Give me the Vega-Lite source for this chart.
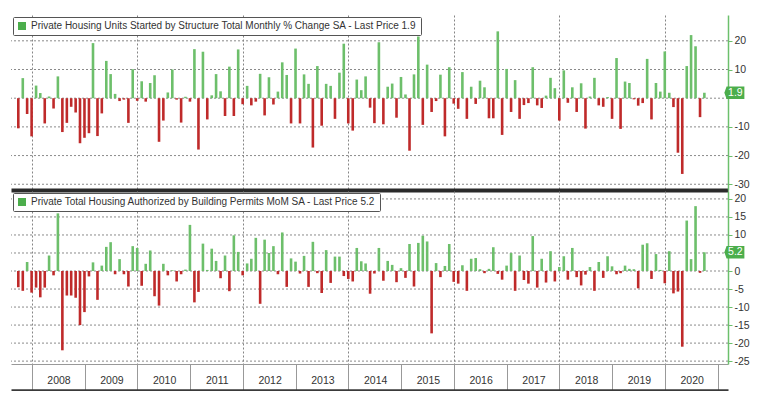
{
"$schema": "https://vega.github.io/schema/vega-lite/v6.json",
"background": "white",
"padding": {"left": 10, "top": 15, "right": 0, "bottom": 0},
"config": {
  "font": "Liberation Sans, Arial, sans-serif",
  "view": {"stroke": null},
  "axis": {"labelFont": "Liberation Sans, Arial, sans-serif", "labelFontSize": 10.5, "labelColor": "#333333", "labelOverlap": false},
  "axisX": {"gridColor": "#858585", "gridDash": [2, 2], "gridWidth": 1},
  "legend": {"labelFont": "Liberation Sans, Arial, sans-serif", "labelFontSize": 10, "labelColor": "#333333"},
  "rule": {"color": "#8a8a8a", "strokeDash": [2, 2], "strokeWidth": 1}
},
"datasets": {
"starts": [
{"d":"2007-09-30","v":-10.5},{"d":"2007-10-31","v":7},{"d":"2007-11-30","v":-5.5},{"d":"2007-12-31","v":-13.3},
{"d":"2008-01-31","v":4.4},{"d":"2008-02-29","v":1.8},{"d":"2008-03-31","v":-8.8},{"d":"2008-04-30","v":0.6},{"d":"2008-05-31","v":-3.6},{"d":"2008-06-30","v":7.6},{"d":"2008-07-31","v":-11.8},{"d":"2008-08-31","v":-8.6},{"d":"2008-09-30","v":-3},{"d":"2008-10-31","v":-5},{"d":"2008-11-30","v":-15.7},{"d":"2008-12-31","v":-13.8},
{"d":"2009-01-31","v":-12.2},{"d":"2009-02-28","v":19.2},{"d":"2009-03-31","v":-13.2},{"d":"2009-04-30","v":-5.3},{"d":"2009-05-31","v":13},{"d":"2009-06-30","v":8.4},{"d":"2009-07-31","v":1.5},{"d":"2009-08-31","v":-1},{"d":"2009-09-30","v":-0.5},{"d":"2009-10-31","v":-8.6},{"d":"2009-11-30","v":10.1},{"d":"2009-12-31","v":-0.9},
{"d":"2010-01-31","v":5.9},{"d":"2010-02-28","v":-1.2},{"d":"2010-03-31","v":5.3},{"d":"2010-04-30","v":8},{"d":"2010-05-31","v":-15.2},{"d":"2010-06-30","v":-7.8},{"d":"2010-07-31","v":2},{"d":"2010-08-31","v":10},{"d":"2010-09-30","v":-0.5},{"d":"2010-10-31","v":-8.5},{"d":"2010-11-30","v":0.5},{"d":"2010-12-31","v":-1.2},
{"d":"2011-01-31","v":17.1},{"d":"2011-02-28","v":-17.9},{"d":"2011-03-31","v":16.2},{"d":"2011-04-30","v":-7.4},{"d":"2011-05-31","v":1},{"d":"2011-06-30","v":8.4},{"d":"2011-07-31","v":2.4},{"d":"2011-08-31","v":-6.2},{"d":"2011-09-30","v":11},{"d":"2011-10-31","v":-6.2},{"d":"2011-11-30","v":17},{"d":"2011-12-31","v":-2.1},
{"d":"2012-01-31","v":4.3},{"d":"2012-02-29","v":-2.5},{"d":"2012-03-31","v":-1.2},{"d":"2012-04-30","v":8.5},{"d":"2012-05-31","v":-6},{"d":"2012-06-30","v":7.3},{"d":"2012-07-31","v":-2.2},{"d":"2012-08-31","v":2.3},{"d":"2012-09-30","v":12.5},{"d":"2012-10-31","v":8.1},{"d":"2012-11-30","v":-8.8},{"d":"2012-12-31","v":17.3},
{"d":"2013-01-31","v":-8.8},{"d":"2013-02-28","v":8.3},{"d":"2013-03-31","v":5},{"d":"2013-04-30","v":-17.2},{"d":"2013-05-31","v":11.2},{"d":"2013-06-30","v":-9.6},{"d":"2013-07-31","v":5},{"d":"2013-08-31","v":4.3},{"d":"2013-09-30","v":-7.2},{"d":"2013-10-31","v":8.9},{"d":"2013-11-30","v":19},{"d":"2013-12-31","v":-8.8},
{"d":"2014-01-31","v":-11.3},{"d":"2014-02-28","v":6.5},{"d":"2014-03-31","v":2.8},{"d":"2014-04-30","v":7.6},{"d":"2014-05-31","v":-3.3},{"d":"2014-06-30","v":-8.7},{"d":"2014-07-31","v":19.5},{"d":"2014-08-31","v":-9.1},{"d":"2014-09-30","v":4},{"d":"2014-10-31","v":5.1},{"d":"2014-11-30","v":-6.8},{"d":"2014-12-31","v":7.4},
{"d":"2015-01-31","v":1.3},{"d":"2015-02-28","v":-18.3},{"d":"2015-03-31","v":8.3},{"d":"2015-04-30","v":21.5},{"d":"2015-05-31","v":-9.3},{"d":"2015-06-30","v":11.7},{"d":"2015-07-31","v":-4.8},{"d":"2015-08-31","v":-1},{"d":"2015-09-30","v":8.2},{"d":"2015-10-31","v":-13.3},{"d":"2015-11-30","v":10.8},{"d":"2015-12-31","v":-1.9},
{"d":"2016-01-31","v":-3.7},{"d":"2016-02-29","v":9.1},{"d":"2016-03-31","v":-7.2},{"d":"2016-04-30","v":4},{"d":"2016-05-31","v":-2},{"d":"2016-06-30","v":6.1},{"d":"2016-07-31","v":3.8},{"d":"2016-08-31","v":-7},{"d":"2016-09-30","v":-7},{"d":"2016-10-31","v":23.3},{"d":"2016-11-30","v":-12.8},{"d":"2016-12-31","v":10.2},
{"d":"2017-01-31","v":-4.8},{"d":"2017-02-28","v":6.3},{"d":"2017-03-31","v":-7.2},{"d":"2017-04-30","v":-2.4},{"d":"2017-05-31","v":-1.7},{"d":"2017-06-30","v":10.8},{"d":"2017-07-31","v":-2.5},{"d":"2017-08-31","v":-3.4},{"d":"2017-09-30","v":0.9},{"d":"2017-10-31","v":7.1},{"d":"2017-11-30","v":3.5},{"d":"2017-12-31","v":-7.8},
{"d":"2018-01-31","v":9.7},{"d":"2018-02-28","v":-1.6},{"d":"2018-03-31","v":3.8},{"d":"2018-04-30","v":-4.8},{"d":"2018-05-31","v":5.2},{"d":"2018-06-30","v":-10.6},{"d":"2018-07-31","v":0.6},{"d":"2018-08-31","v":7.1},{"d":"2018-09-30","v":-2.5},{"d":"2018-10-31","v":-3},{"d":"2018-11-30","v":0.4},{"d":"2018-12-31","v":-7.2},
{"d":"2019-01-31","v":14},{"d":"2019-02-28","v":-10.7},{"d":"2019-03-31","v":5.8},{"d":"2019-04-30","v":5.3},{"d":"2019-05-31","v":-0.4},{"d":"2019-06-30","v":-2.6},{"d":"2019-07-31","v":-1.7},{"d":"2019-08-31","v":13.7},{"d":"2019-09-30","v":-7.4},{"d":"2019-10-31","v":5.3},{"d":"2019-11-30","v":2.3},{"d":"2019-12-31","v":16.3},
{"d":"2020-01-31","v":1.9},{"d":"2020-02-29","v":-3.1},{"d":"2020-03-31","v":-19},{"d":"2020-04-30","v":-26.4},{"d":"2020-05-31","v":11.2},{"d":"2020-06-30","v":22},{"d":"2020-07-31","v":18.1},{"d":"2020-08-31","v":-6.6},{"d":"2020-09-30","v":1.9}
],
"permits": [
{"d":"2007-09-30","v":-4.5},{"d":"2007-10-31","v":-5.5},{"d":"2007-11-30","v":2.5},{"d":"2007-12-31","v":-6},
{"d":"2008-01-31","v":-4.6},{"d":"2008-02-29","v":-7.3},{"d":"2008-03-31","v":-4.6},{"d":"2008-04-30","v":4.3},{"d":"2008-05-31","v":-1.2},{"d":"2008-06-30","v":16},{"d":"2008-07-31","v":-22},{"d":"2008-08-31","v":-6.8},{"d":"2008-09-30","v":-6.8},{"d":"2008-10-31","v":-7.4},{"d":"2008-11-30","v":-15},{"d":"2008-12-31","v":-11.4},
{"d":"2009-01-31","v":-1.5},{"d":"2009-02-28","v":2.4},{"d":"2009-03-31","v":-8},{"d":"2009-04-30","v":1.5},{"d":"2009-05-31","v":6.7},{"d":"2009-06-30","v":8},{"d":"2009-07-31","v":-0.9},{"d":"2009-08-31","v":3.3},{"d":"2009-09-30","v":-0.9},{"d":"2009-10-31","v":-4.3},{"d":"2009-11-30","v":6.9},{"d":"2009-12-31","v":6.4},
{"d":"2010-01-31","v":-4.1},{"d":"2010-02-28","v":2},{"d":"2010-03-31","v":5.7},{"d":"2010-04-30","v":-7},{"d":"2010-05-31","v":-9.6},{"d":"2010-06-30","v":2},{"d":"2010-07-31","v":-1.2},{"d":"2010-08-31","v":0.2},{"d":"2010-09-30","v":-2.9},{"d":"2010-10-31","v":-0.9},{"d":"2010-11-30","v":0.4},{"d":"2010-12-31","v":12.8},
{"d":"2011-01-31","v":-8.7},{"d":"2011-02-28","v":-5.8},{"d":"2011-03-31","v":7.6},{"d":"2011-04-30","v":0.3},{"d":"2011-05-31","v":6.2},{"d":"2011-06-30","v":2.8},{"d":"2011-07-31","v":-2},{"d":"2011-08-31","v":4.3},{"d":"2011-09-30","v":-5.6},{"d":"2011-10-31","v":9.9},{"d":"2011-11-30","v":5.3},{"d":"2011-12-31","v":-1.2},
{"d":"2012-01-31","v":2.1},{"d":"2012-02-29","v":3.4},{"d":"2012-03-31","v":9.2},{"d":"2012-04-30","v":-9.1},{"d":"2012-05-31","v":8.7},{"d":"2012-06-30","v":5},{"d":"2012-07-31","v":6.9},{"d":"2012-08-31","v":-0.9},{"d":"2012-09-30","v":10.7},{"d":"2012-10-31","v":-4.4},{"d":"2012-11-30","v":3.5},{"d":"2012-12-31","v":2.6},
{"d":"2013-01-31","v":-0.7},{"d":"2013-02-28","v":4.2},{"d":"2013-03-31","v":-4.4},{"d":"2013-04-30","v":8.1},{"d":"2013-05-31","v":-0.6},{"d":"2013-06-30","v":-6.1},{"d":"2013-07-31","v":5.8},{"d":"2013-08-31","v":-3.3},{"d":"2013-09-30","v":4},{"d":"2013-10-31","v":4},{"d":"2013-11-30","v":-1.4},{"d":"2013-12-31","v":-2.2},
{"d":"2014-01-31","v":-2.9},{"d":"2014-02-28","v":6.4},{"d":"2014-03-31","v":2.7},{"d":"2014-04-30","v":2.1},{"d":"2014-05-31","v":-6.3},{"d":"2014-06-30","v":-0.7},{"d":"2014-07-31","v":6.4},{"d":"2014-08-31","v":-2.7},{"d":"2014-09-30","v":2.8},{"d":"2014-10-31","v":1.7},{"d":"2014-11-30","v":-3.1},{"d":"2014-12-31","v":0.8},
{"d":"2015-01-31","v":-1.9},{"d":"2015-02-28","v":7.5},{"d":"2015-03-31","v":-4.3},{"d":"2015-04-30","v":7.8},{"d":"2015-05-31","v":9.8},{"d":"2015-06-30","v":8.2},{"d":"2015-07-31","v":-17.3},{"d":"2015-08-31","v":2.2},{"d":"2015-09-30","v":-1.7},{"d":"2015-10-31","v":1.4},{"d":"2015-11-30","v":7.5},{"d":"2015-12-31","v":-3},
{"d":"2016-01-31","v":-3.5},{"d":"2016-02-29","v":1.6},{"d":"2016-03-31","v":-5.5},{"d":"2016-04-30","v":3.4},{"d":"2016-05-31","v":3.6},{"d":"2016-06-30","v":0.5},{"d":"2016-07-31","v":-0.6},{"d":"2016-08-31","v":0.6},{"d":"2016-09-30","v":6.6},{"d":"2016-10-31","v":-0.8},{"d":"2016-11-30","v":-2.4},{"d":"2016-12-31","v":1.5},
{"d":"2017-01-31","v":5},{"d":"2017-02-28","v":-5.5},{"d":"2017-03-31","v":4.3},{"d":"2017-04-30","v":-2.5},{"d":"2017-05-31","v":-3.5},{"d":"2017-06-30","v":9.7},{"d":"2017-07-31","v":-4.6},{"d":"2017-08-31","v":3.4},{"d":"2017-09-30","v":-3.2},{"d":"2017-10-31","v":5.5},{"d":"2017-11-30","v":-2.9},{"d":"2017-12-31","v":1.1},
{"d":"2018-01-31","v":4.1},{"d":"2018-02-28","v":-2.4},{"d":"2018-03-31","v":6.4},{"d":"2018-04-30","v":-1.7},{"d":"2018-05-31","v":-4},{"d":"2018-06-30","v":-1},{"d":"2018-07-31","v":1.1},{"d":"2018-08-31","v":-5.5},{"d":"2018-09-30","v":2.5},{"d":"2018-10-31","v":-1.9},{"d":"2018-11-30","v":4.1},{"d":"2018-12-31","v":1.3},
{"d":"2019-01-31","v":-0.9},{"d":"2019-02-28","v":-0.6},{"d":"2019-03-31","v":1.5},{"d":"2019-04-30","v":0.6},{"d":"2019-05-31","v":0.5},{"d":"2019-06-30","v":-4.8},{"d":"2019-07-31","v":7.3},{"d":"2019-08-31","v":7.7},{"d":"2019-09-30","v":-2.2},{"d":"2019-10-31","v":4.7},{"d":"2019-11-30","v":0.3},{"d":"2019-12-31","v":-3.4},
{"d":"2020-01-31","v":5.5},{"d":"2020-02-29","v":-6.2},{"d":"2020-03-31","v":-5.7},{"d":"2020-04-30","v":-21},{"d":"2020-05-31","v":14},{"d":"2020-06-30","v":3.3},{"d":"2020-07-31","v":18},{"d":"2020-08-31","v":-0.5},{"d":"2020-09-30","v":5.2}
]
},
"spacing": 1,
"resolve": {"scale": {"x": "independent", "y": "independent", "color": "independent"}, "legend": {"color": "independent"}},
"vconcat": [
{
  "width": 717, "height": 175,
  "data": {"name": "starts"},
  "resolve": {"axis": {"x": "independent", "y": "independent"}},
  "layer": [
    {"data": {"values": [{}]}, "mark": "rule", "encoding": {"y": {"datum": 20, "axis": null}}},
    {"data": {"values": [{}]}, "mark": "rule", "encoding": {"y": {"datum": 10, "axis": null}}},
    {"data": {"values": [{}]}, "mark": "rule", "encoding": {"y": {"datum": 0, "axis": null}}},
    {"data": {"values": [{}]}, "mark": "rule", "encoding": {"y": {"datum": -10, "axis": null}}},
    {"data": {"values": [{}]}, "mark": "rule", "encoding": {"y": {"datum": -20, "axis": null}}},
    {"data": {"values": [{}]}, "mark": "rule", "encoding": {"y": {"datum": -30, "axis": null}}},
    {
      "mark": {"type": "bar", "size": 2.6},
      "encoding": {
        "x": {"field": "d", "type": "temporal",
              "scale": {"type": "utc", "domain": [{"year": 2007, "month": 9, "date": 14, "utc": true}, {"year": 2021, "month": 2, "date": 6, "utc": true}]},
              "axis": {"orient": "bottom", "title": null, "domain": true, "domainColor": "#2b2b2b", "domainWidth": 4, "ticks": false, "labels": false, "grid": true, "tickCount": {"interval": "year", "step": 2}}},
        "y": {"field": "v", "type": "quantitative",
              "scale": {"domain": [-32, 29], "nice": false},
              "axis": {"orient": "right", "title": null, "values": [-30, -20, -10, 0, 10, 20], "labelExpr": "datum.value == 0 ? '' : '' + datum.value", "labelOverlap": false, "labelBound": false, "domainColor": "#6cc06c", "domainWidth": 1.5, "tickColor": "#6cc06c", "tickSize": 4, "labelPadding": 2, "grid": false}},
        "color": {"condition": {"test": "datum.v >= 0", "value": "#6dbf6b"}, "value": "#bf2a2a"}
      }
    },
    {
      "transform": [{"filter": "utcyear(datum.d) == 2020 && utcmonth(datum.d) == 8"}],
      "mark": {"type": "point", "shape": "M-1,0L-0.78,-0.62L1,-0.62L1,0.62L-0.78,0.62Z", "size": 400, "filled": true, "opacity": 1, "xOffset": 30},
      "encoding": {
        "x": {"field": "d", "type": "temporal", "axis": null},
        "y": {"field": "v", "type": "quantitative", "axis": null},
        "color": {"datum": "Private Housing Units Started by Structure Total Monthly % Change SA - Last Price 1.9", "type": "nominal",
                  "scale": {"range": ["#4cae4c"]},
                  "legend": {"title": null, "orient": "top-left", "offset": 2, "padding": 4, "strokeColor": "#555555", "fillColor": "white", "symbolType": "square", "symbolSize": 64, "symbolStrokeWidth": 0, "labelLimit": 700, "cornerRadius": 1}}
      }
    },
    {
      "transform": [{"filter": "utcyear(datum.d) == 2020 && utcmonth(datum.d) == 8"}],
      "mark": {"type": "text", "xOffset": 31, "color": "white", "fontSize": 10.5},
      "encoding": {
        "x": {"field": "d", "type": "temporal", "axis": null},
        "y": {"field": "v", "type": "quantitative", "axis": null},
        "text": {"field": "v", "type": "quantitative", "format": ".1f"}
      }
    }
  ]
},
{
  "width": 717, "height": 173,
  "data": {"name": "permits"},
  "resolve": {"axis": {"x": "independent", "y": "independent"}},
  "layer": [
    {"data": {"values": [{}]}, "mark": "rule", "encoding": {"y": {"datum": 20, "axis": null}}},
    {"data": {"values": [{}]}, "mark": "rule", "encoding": {"y": {"datum": 15, "axis": null}}},
    {"data": {"values": [{}]}, "mark": "rule", "encoding": {"y": {"datum": 10, "axis": null}}},
    {"data": {"values": [{}]}, "mark": "rule", "encoding": {"y": {"datum": 5, "axis": null}}},
    {"data": {"values": [{}]}, "mark": "rule", "encoding": {"y": {"datum": 0, "axis": null}}},
    {"data": {"values": [{}]}, "mark": "rule", "encoding": {"y": {"datum": -5, "axis": null}}},
    {"data": {"values": [{}]}, "mark": "rule", "encoding": {"y": {"datum": -10, "axis": null}}},
    {"data": {"values": [{}]}, "mark": "rule", "encoding": {"y": {"datum": -15, "axis": null}}},
    {"data": {"values": [{}]}, "mark": "rule", "encoding": {"y": {"datum": -20, "axis": null}}},
    {"data": {"values": [{}]}, "mark": "rule", "encoding": {"y": {"datum": -25, "axis": null}}},
    {
      "mark": {"type": "bar", "size": 2.6},
      "encoding": {
        "x": {"field": "d", "type": "temporal",
              "scale": {"type": "utc", "domain": [{"year": 2007, "month": 9, "date": 14, "utc": true}, {"year": 2021, "month": 2, "date": 6, "utc": true}]},
              "axis": {"orient": "bottom", "title": null, "domain": true, "domainColor": "#999999", "domainWidth": 1, "ticks": true, "tickSize": 26, "tickColor": "#999999", "grid": false, "tickCount": {"interval": "year", "step": 1}, "labelExpr": "utcyear(datum.value) > 2020 ? '' : utcFormat(datum.value, '%Y')", "labelAlign": "center", "labelOffset": 26.75, "labelPadding": -15, "labelFlush": false, "labelOverlap": false, "labelBound": false, "labelFontSize": 10.5}},
        "y": {"field": "v", "type": "quantitative",
              "scale": {"domain": [-25.8, 22.2], "nice": false},
              "axis": {"orient": "right", "title": null, "values": [-25, -20, -15, -10, -5, 0, 5, 10, 15, 20], "labelExpr": "datum.value == 5 ? '' : '' + datum.value", "labelOverlap": false, "labelBound": false, "domainColor": "#6cc06c", "domainWidth": 1.5, "tickColor": "#6cc06c", "tickSize": 4, "labelPadding": 2, "grid": false}},
        "color": {"condition": {"test": "datum.v >= 0", "value": "#6dbf6b"}, "value": "#bf2a2a"}
      }
    },
    {
      "transform": [{"filter": "utcyear(datum.d) == 2020 && utcmonth(datum.d) == 8"}],
      "mark": {"type": "point", "shape": "M-1,0L-0.78,-0.62L1,-0.62L1,0.62L-0.78,0.62Z", "size": 400, "filled": true, "opacity": 1, "xOffset": 30},
      "encoding": {
        "x": {"field": "d", "type": "temporal",
              "axis": {"orient": "bottom", "offset": 26, "title": null, "domain": true, "domainColor": "#3a3a3a", "domainWidth": 2.5, "ticks": false, "labels": false, "grid": true, "tickCount": {"interval": "year", "step": 2}}},
        "y": {"field": "v", "type": "quantitative", "axis": null},
        "color": {"datum": "Private Total Housing Authorized by Building Permits MoM SA - Last Price 5.2", "type": "nominal",
                  "scale": {"range": ["#4cae4c"]},
                  "legend": {"title": null, "orient": "top-left", "offset": 2, "padding": 4, "strokeColor": "#555555", "fillColor": "white", "symbolType": "square", "symbolSize": 64, "symbolStrokeWidth": 0, "labelLimit": 700, "cornerRadius": 1}}
      }
    },
    {
      "transform": [{"filter": "utcyear(datum.d) == 2020 && utcmonth(datum.d) == 8"}],
      "mark": {"type": "text", "xOffset": 31, "color": "white", "fontSize": 10.5},
      "encoding": {
        "x": {"field": "d", "type": "temporal", "axis": null},
        "y": {"field": "v", "type": "quantitative", "axis": null},
        "text": {"field": "v", "type": "quantitative", "format": ".1f"}
      }
    }
  ]
}
]
}
